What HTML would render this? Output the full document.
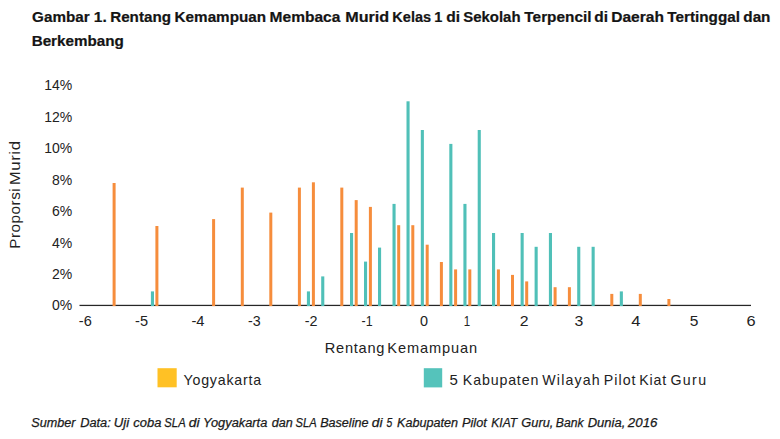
<!DOCTYPE html>
<html><head><meta charset="utf-8"><title>Gambar 1</title>
<style>html,body{margin:0;padding:0;background:#fff;}body{width:780px;height:439px;overflow:hidden;font-family:"Liberation Sans",sans-serif;}</style>
</head><body>
<svg width="780" height="439" viewBox="0 0 780 439" style="display:block;font-family:'Liberation Sans',sans-serif">
<rect x="0" y="0" width="780" height="439" fill="#ffffff"/>
<g font-size="13.8" fill="#141414" font-weight="bold" stroke="#141414" stroke-width="0.2">
<text x="32.12" y="21.8" textLength="57.52" lengthAdjust="spacingAndGlyphs">Gambar</text>
<text x="93.81" y="21.8" textLength="12.93" lengthAdjust="spacingAndGlyphs">1.</text>
<text x="110.21" y="21.8" textLength="60.74" lengthAdjust="spacingAndGlyphs">Rentang</text>
<text x="174.6" y="21.8" textLength="91.5" lengthAdjust="spacingAndGlyphs">Kemampuan</text>
<text x="269.57" y="21.8" textLength="70.76" lengthAdjust="spacingAndGlyphs">Membaca</text>
<text x="345.27" y="21.8" textLength="43.93" lengthAdjust="spacingAndGlyphs">Murid</text>
<text x="392.37" y="21.8" textLength="38.68" lengthAdjust="spacingAndGlyphs">Kelas</text>
<text x="434.29" y="21.8" textLength="8.11" lengthAdjust="spacingAndGlyphs">1</text>
<text x="446.15" y="21.8" textLength="13.82" lengthAdjust="spacingAndGlyphs">di</text>
<text x="463.29" y="21.8" textLength="57.27" lengthAdjust="spacingAndGlyphs">Sekolah</text>
<text x="524.38" y="21.8" textLength="67.09" lengthAdjust="spacingAndGlyphs">Terpencil</text>
<text x="594.22" y="21.8" textLength="13.73" lengthAdjust="spacingAndGlyphs">di</text>
<text x="611.22" y="21.8" textLength="52.69" lengthAdjust="spacingAndGlyphs">Daerah</text>
<text x="667.39" y="21.8" textLength="72.58" lengthAdjust="spacingAndGlyphs">Tertinggal</text>
<text x="743.32" y="21.8" textLength="27.14" lengthAdjust="spacingAndGlyphs">dan</text>
</g>
<g font-size="13.8" fill="#141414" font-weight="bold" stroke="#141414" stroke-width="0.2">
<text x="31.65" y="46.4" textLength="92.17" lengthAdjust="spacingAndGlyphs">Berkembang</text>
</g>
<rect x="79.5" y="304.80" width="671.5" height="1.25" fill="#262626"/>
<g fill="#F68D3C">
<rect x="112.6" y="183.0" width="3.0" height="123.1"/>
<rect x="155.4" y="226.0" width="3.0" height="80.1"/>
<rect x="212.1" y="219.1" width="3.0" height="87.0"/>
<rect x="240.8" y="187.6" width="3.0" height="118.5"/>
<rect x="269.3" y="212.6" width="3.0" height="93.5"/>
<rect x="297.9" y="187.6" width="3.0" height="118.5"/>
<rect x="311.9" y="182.3" width="3.0" height="123.8"/>
<rect x="340.3" y="187.6" width="3.0" height="118.5"/>
<rect x="354.7" y="200.1" width="3.0" height="106.0"/>
<rect x="368.9" y="206.9" width="3.0" height="99.2"/>
<rect x="397.2" y="225.2" width="3.0" height="80.9"/>
<rect x="411.3" y="225.2" width="3.0" height="80.9"/>
<rect x="425.7" y="244.7" width="3.0" height="61.4"/>
<rect x="439.9" y="262.0" width="3.0" height="44.1"/>
<rect x="454.1" y="269.4" width="3.0" height="36.7"/>
<rect x="468.3" y="269.4" width="3.0" height="36.7"/>
<rect x="496.9" y="269.4" width="3.0" height="36.7"/>
<rect x="511.0" y="274.9" width="3.0" height="31.2"/>
<rect x="525.2" y="281.4" width="3.0" height="24.7"/>
<rect x="553.6" y="287.2" width="3.0" height="18.9"/>
<rect x="567.9" y="287.2" width="3.0" height="18.9"/>
<rect x="610.3" y="293.9" width="3.0" height="12.2"/>
<rect x="638.8" y="293.9" width="3.0" height="12.2"/>
<rect x="667.4" y="299.0" width="3.0" height="7.1"/>
</g>
<g fill="#50C0B8">
<rect x="150.9" y="291.4" width="3.1" height="14.7"/>
<rect x="306.9" y="291.4" width="3.1" height="14.7"/>
<rect x="321.2" y="276.4" width="3.1" height="29.7"/>
<rect x="350.0" y="233.0" width="3.1" height="73.1"/>
<rect x="364.0" y="261.6" width="3.1" height="44.5"/>
<rect x="378.0" y="247.6" width="3.1" height="58.5"/>
<rect x="392.5" y="203.9" width="3.1" height="102.2"/>
<rect x="406.5" y="101.3" width="3.1" height="204.8"/>
<rect x="420.8" y="130.0" width="3.1" height="176.1"/>
<rect x="449.3" y="143.9" width="3.1" height="162.2"/>
<rect x="463.4" y="203.9" width="3.1" height="102.2"/>
<rect x="477.7" y="130.0" width="3.1" height="176.1"/>
<rect x="492.0" y="233.0" width="3.1" height="73.1"/>
<rect x="520.6" y="233.0" width="3.1" height="73.1"/>
<rect x="534.6" y="246.8" width="3.1" height="59.3"/>
<rect x="548.9" y="233.0" width="3.1" height="73.1"/>
<rect x="577.2" y="246.8" width="3.1" height="59.3"/>
<rect x="591.6" y="246.8" width="3.1" height="59.3"/>
<rect x="619.8" y="291.4" width="3.1" height="14.7"/>
</g>
<g font-size="14" fill="#222222" text-anchor="end">
<text x="72.3" y="309.8">0%</text>
<text x="72.3" y="278.8">2%</text>
<text x="72.3" y="247.7">4%</text>
<text x="72.3" y="216.3">6%</text>
<text x="72.3" y="184.9">8%</text>
<text x="72.3" y="152.7">10%</text>
<text x="72.3" y="121.8">12%</text>
<text x="72.3" y="90.2">14%</text>
</g>
<g transform="translate(20.2 247.3) rotate(-90)" font-size="14.4" fill="#222222" letter-spacing="0.5">
<text x="-1.34" y="0" textLength="60.8" lengthAdjust="spacingAndGlyphs">Proporsi</text>
<text x="62.04" y="0" textLength="44.84" lengthAdjust="spacingAndGlyphs">Murid</text>
</g>
<g font-size="14.2" fill="#222222" >
<text x="78.79" y="325.8" textLength="12.96" lengthAdjust="spacingAndGlyphs">-6</text>
<text x="135.12" y="325.8" textLength="12.95" lengthAdjust="spacingAndGlyphs">-5</text>
<text x="191.46" y="325.8" textLength="13.09" lengthAdjust="spacingAndGlyphs">-4</text>
<text x="247.99" y="325.8" textLength="12.66" lengthAdjust="spacingAndGlyphs">-3</text>
<text x="304.68" y="325.8" textLength="12.79" lengthAdjust="spacingAndGlyphs">-2</text>
<text x="361.53" y="325.8" textLength="11.06" lengthAdjust="spacingAndGlyphs">-1</text>
<text x="420.03" y="325.8" textLength="8.0" lengthAdjust="spacingAndGlyphs">0</text>
<text x="463.83" y="325.8" textLength="6.39" lengthAdjust="spacingAndGlyphs">1</text>
<text x="519.66" y="325.8" textLength="8.79" lengthAdjust="spacingAndGlyphs">2</text>
<text x="574.59" y="325.8" textLength="8.8" lengthAdjust="spacingAndGlyphs">3</text>
<text x="631.27" y="325.8" textLength="9.21" lengthAdjust="spacingAndGlyphs">4</text>
<text x="689.87" y="325.8" textLength="8.64" lengthAdjust="spacingAndGlyphs">5</text>
<text x="746.49" y="325.8" textLength="9.11" lengthAdjust="spacingAndGlyphs">6</text>
</g>
<g font-size="14.6" fill="#222222" >
<text x="324.84" y="353" textLength="59.54" lengthAdjust="spacing">Rentang</text>
<text x="387.27" y="353" textLength="89.87" lengthAdjust="spacing">Kemampuan</text>
</g>
<rect x="157.5" y="368.2" width="19.2" height="19.1" fill="#FFC125"/>
<rect x="423.8" y="368.2" width="18.4" height="19.2" fill="#55C3BB"/>
<g font-size="14.2" fill="#222222" >
<text x="183.47" y="385.2" textLength="77.79" lengthAdjust="spacing">Yogyakarta</text>
<text x="449.4" y="385.2" textLength="8.35" lengthAdjust="spacingAndGlyphs">5</text>
<text x="462.87" y="385.2" textLength="75.42" lengthAdjust="spacing">Kabupaten</text>
<text x="542.29" y="385.2" textLength="57.4" lengthAdjust="spacing">Wilayah</text>
<text x="603.7" y="385.2" textLength="31.83" lengthAdjust="spacing">Pilot</text>
<text x="639.22" y="385.2" textLength="27.02" lengthAdjust="spacing">Kiat</text>
<text x="670.42" y="385.2" textLength="35.71" lengthAdjust="spacing">Guru</text>
</g>
<g font-size="12.3" fill="#1a1a1a" font-style="italic" stroke="#1a1a1a" stroke-width="0.25">
<text x="31.29" y="426.6" textLength="44.26" lengthAdjust="spacingAndGlyphs">Sumber</text>
<text x="80.15" y="426.6" textLength="30.63" lengthAdjust="spacingAndGlyphs">Data:</text>
<text x="113.7" y="426.6" textLength="15.41" lengthAdjust="spacingAndGlyphs">Uji</text>
<text x="133.37" y="426.6" textLength="28.04" lengthAdjust="spacingAndGlyphs">coba</text>
<text x="164.37" y="426.6" textLength="21.28" lengthAdjust="spacingAndGlyphs">SLA</text>
<text x="188.89" y="426.6" textLength="10.8" lengthAdjust="spacingAndGlyphs">di</text>
<text x="203.13" y="426.6" textLength="64.17" lengthAdjust="spacingAndGlyphs">Yogyakarta</text>
<text x="271.7" y="426.6" textLength="20.98" lengthAdjust="spacingAndGlyphs">dan</text>
<text x="295.56" y="426.6" textLength="21.17" lengthAdjust="spacingAndGlyphs">SLA</text>
<text x="320.15" y="426.6" textLength="48.35" lengthAdjust="spacingAndGlyphs">Baseline</text>
<text x="371.79" y="426.6" textLength="10.66" lengthAdjust="spacingAndGlyphs">di</text>
<text x="386.44" y="426.6" textLength="5.76" lengthAdjust="spacingAndGlyphs">5</text>
<text x="397.05" y="426.6" textLength="60.95" lengthAdjust="spacingAndGlyphs">Kabupaten</text>
<text x="462.07" y="426.6" textLength="24.74" lengthAdjust="spacingAndGlyphs">Pilot</text>
<text x="491.33" y="426.6" textLength="25.89" lengthAdjust="spacingAndGlyphs">KIAT</text>
<text x="521.33" y="426.6" textLength="32.05" lengthAdjust="spacingAndGlyphs">Guru,</text>
<text x="555.75" y="426.6" textLength="27.8" lengthAdjust="spacingAndGlyphs">Bank</text>
<text x="587.74" y="426.6" textLength="37.58" lengthAdjust="spacingAndGlyphs">Dunia,</text>
<text x="627.83" y="426.6" textLength="29.65" lengthAdjust="spacingAndGlyphs">2016</text>
</g>
</svg>
</body></html>
